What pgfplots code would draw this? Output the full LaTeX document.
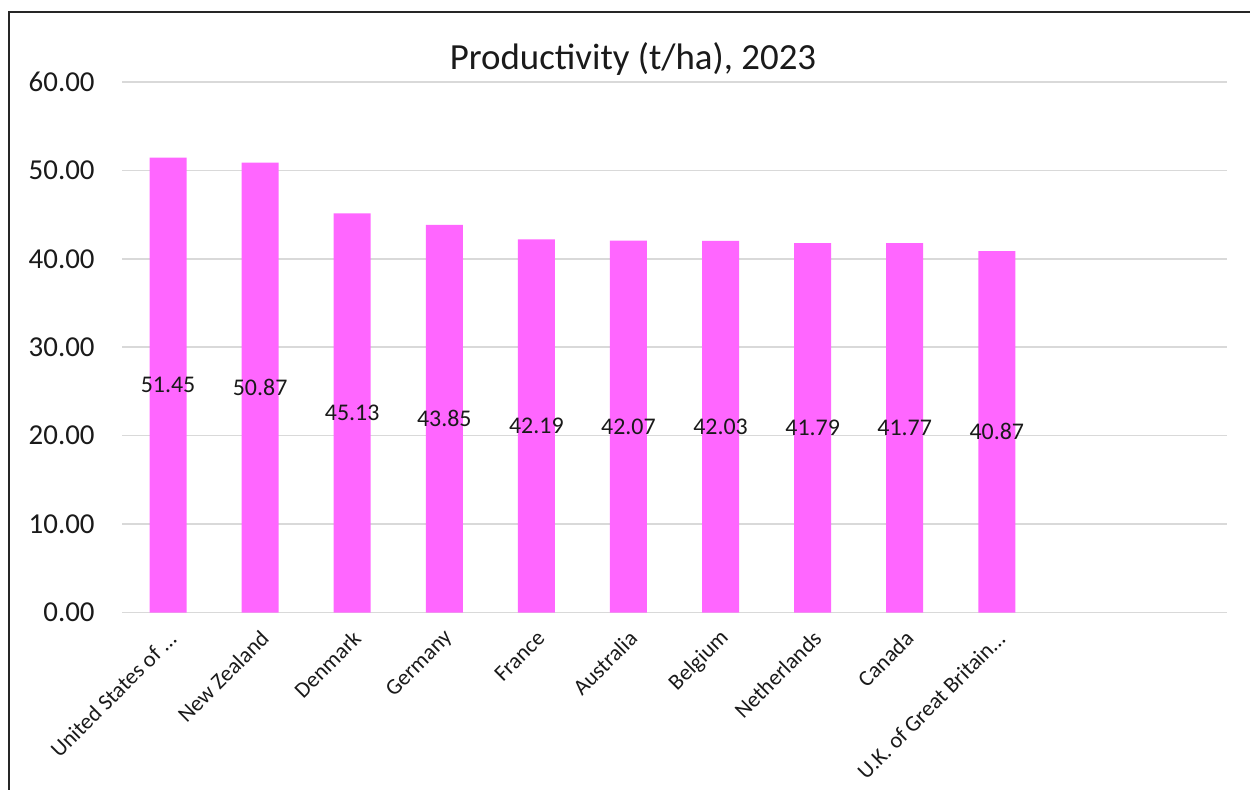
\documentclass[border=0pt]{standalone}
\usepackage{fontspec}
\setmainfont{Carlito}
\usepackage{pgfplots}
\pgfplotsset{compat=1.18}
\usepackage{pgfplotstable}
\definecolor{barpink}{HTML}{FF66FF}
\definecolor{gridgray}{HTML}{D9D9D9}
\definecolor{framecol}{HTML}{262626}
\definecolor{txt}{HTML}{1A1A1A}
\pgfplotstableread{
x y
0 51.45
1 50.87
2 45.13
3 43.85
4 42.19
5 42.07
6 42.03
7 41.79
8 41.77
9 40.87
}\data
\begin{document}
\begin{tikzpicture}
\useasboundingbox (0,0) rectangle (625bp,395bp);
\fill[white] (0,0) rectangle (625bp,395bp);
\draw[line width=1bp, color=framecol] (4.25bp,0) -- (4.25bp,388.75bp) -- (625bp,388.75bp);
\node[anchor=base, font=\fontsize{18.5}{20}\selectfont, text=txt] at (316.5bp,360bp) {Productivity (t/ha), 2023};
\begin{axis}[
  at={(61bp,88.75bp)}, anchor=south west,
  scale only axis, width=552.5bp, height=265.25bp,
  xmin=-0.5, xmax=11.5, ymin=0, ymax=60,
  ytick={0,10,...,60},
  xtick={0,...,9},
  xticklabels={{United States of .{}.{}.}, New Zealand, Denmark, Germany, France, Australia, Belgium, Netherlands, Canada, {U.K. of Great Britain.{}.{}.}},
  ybar, bar width=18.5bp, bar shift=0pt,
  axis line style={draw=none},
  major tick length=0pt,
  ymajorgrids,
  grid style={gridgray, line width=0.75bp},
  /pgf/number format/assume math mode=true,
  yticklabel={\pgfmathprintnumber[fixed, fixed zerofill, precision=2]{\tick}},
  yticklabel style={font=\fontsize{14.5}{16}\selectfont, text=txt, anchor=east, inner sep=0pt, xshift=-13.5bp},
  xticklabel style={font=\fontsize{11.25}{13}\selectfont, text=txt, xshift=2.5bp, yshift=-11bp, rotate=45, anchor=east, inner sep=0pt},
  clip=false,
]
\addplot[fill=barpink, draw=none] table[x=x, y=y] {\data};
\addplot[draw=none, fill=none, point meta=explicit,
  nodes near coords={\pgfmathprintnumber[fixed, fixed zerofill, precision=2, assume math mode=true]{\pgfplotspointmeta}},
  every node near coord/.append style={anchor=center, font=\fontsize{12}{14}\selectfont, text=txt, inner sep=0pt}]
  table[x=x, y expr=\thisrow{y}/2, meta=y] {\data};
\end{axis}
\end{tikzpicture}
\end{document}
